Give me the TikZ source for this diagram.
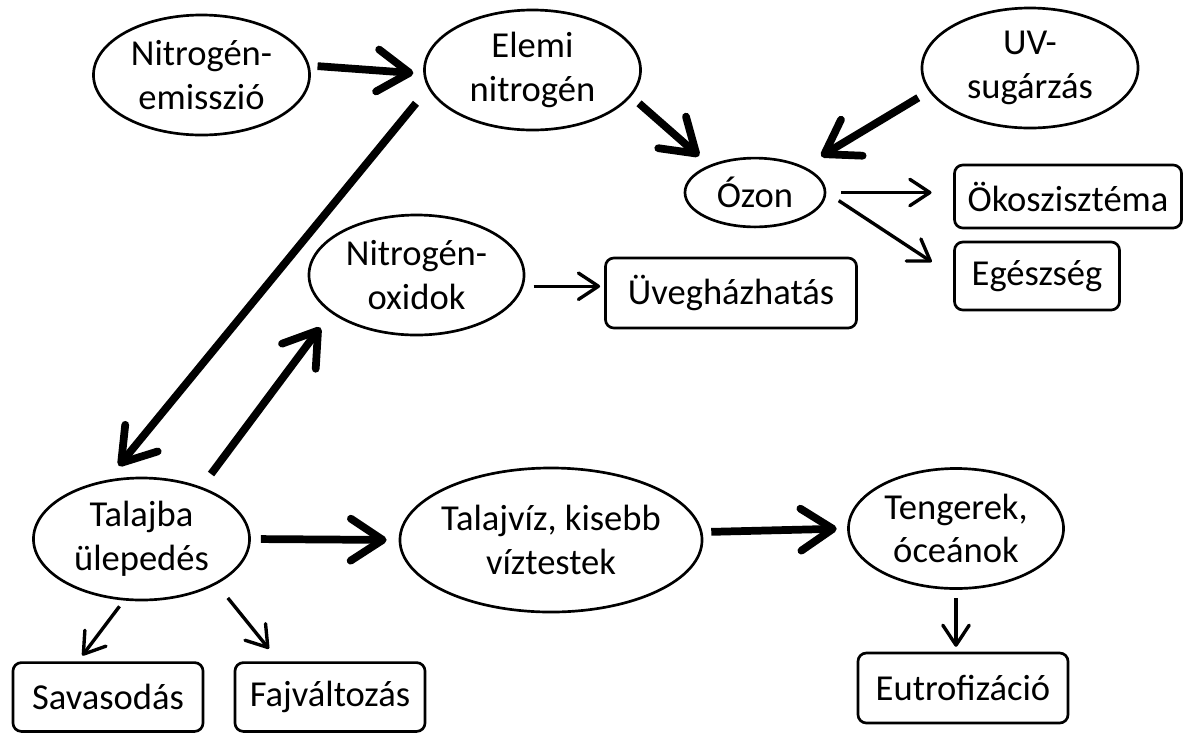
\documentclass[tikz,border=0pt]{standalone}
\usepackage{fontspec}
\setmainfont{Carlito}
\usetikzlibrary{shapes.geometric,arrows.meta}

\begin{document}
\begin{tikzpicture}[x=0.025cm,y=-0.025cm,
    every node/.style={font=\fontsize{26}{31}\selectfont,align=center},
    oval/.style={draw,ellipse,line width=1.9pt,inner sep=0pt,minimum width=5.4cm,minimum height=3cm},
    effect/.style={draw,rectangle,rounded corners=6pt,line width=1.9pt,inner sep=0pt,minimum height=1.72cm},
    bigarrow/.style={line width=5.5pt,-{Straight Barb[length=0.8cm,width=1.05cm,round]}},
    smallarrow/.style={line width=2.4pt,-{Straight Barb[length=0.5cm,width=0.66cm,round]}}]

  \useasboundingbox (0,0) rectangle (1184,733);

  % levego
  \node[oval] (emis) at (201.5,75) {Nitrogén-\\emisszió};
  \node[oval] (elemi) at (532.5,70) {Elemi\\nitrogén};
  \node[oval] (uv) at (1030,68) {UV-\\sugárzás};
  \node[oval,minimum width=3.5cm,minimum height=1.72cm] (ozon) at (755,192.5) {Ózon};
  \node[oval,minimum width=5.375cm] (nox) at (416.5,275) {Nitrogén-\\oxidok};

  \node[effect,minimum width=5.675cm,minimum height=1.575cm] (oko) at (1068,196.5) {Ökoszisztéma};
  \node[effect,minimum width=4.125cm,minimum height=1.7cm] (egesz) at (1037,276) {Egészség};
  \node[effect,minimum width=6.275cm,minimum height=1.75cm] (uveg) at (731,293) {Üvegházhatás};

  % talaj es viz
  \node[oval,minimum height=3.05cm] (talaj) at (141.5,539) {Talajba\\ülepedés};
  \node[oval,minimum width=7.55cm,minimum height=3.6cm,inner xsep=-5pt] (viz) at (551,540) {Talajvíz, kisebb\\víztestek};
  \node[oval,minimum width=5.375cm] (tenger) at (956,528.5) {Tengerek,\\óceánok};

  \node[effect,minimum width=4.75cm] (savas) at (108,697) {Savasodás};
  \node[effect,minimum width=4.75cm] (faj) at (330,697) {Fajváltozás};
  \node[effect,minimum width=5.25cm,minimum height=1.75cm] (eutro) at (963,688) {Eutrofizáció};

  \draw[bigarrow,shorten <=0.2cm,shorten >=0.25cm] (emis.5) -- (elemi.182);
  \draw[bigarrow,shorten <=0.48cm,shorten >=0.45cm] (elemi.190) -- (talaj.120);
  \draw[bigarrow,shorten <=0.4cm,shorten >=0.45cm] (talaj.41) -- (nox.204);
  \draw[bigarrow,shorten <=0.26cm,shorten >=0.34cm] (elemi.345) -- (ozon.149);
  \draw[bigarrow,shorten <=0.31cm,shorten >=0.5cm] (uv.193) -- (ozon.28);
  \draw[smallarrow,shorten <=0.37cm,shorten >=0.54cm] (ozon.east) -- (ozon.east -| oko.west);
  \draw[smallarrow,shorten <=0.37cm,shorten >=0.64cm] (ozon.east) -- (egesz.west);
  \draw[smallarrow,shorten <=0.25cm,shorten >=0.1cm] (nox.-6) -- (nox.-6 -| uveg.west);
  \draw[bigarrow,shorten <=0.25cm,shorten >=0.3cm] (talaj.east) -- (viz.west);
  \draw[bigarrow,shorten <=0.22cm,shorten >=0.26cm] (viz.3) -- (tenger.west);
  \draw[smallarrow,shorten <=0.21cm,shorten >=0.12cm] (tenger.south) -- (tenger.south |- eutro.north);
  \draw[smallarrow,shorten <=0.18cm,shorten >=0.18cm] (talaj.254) -- (savas.130);
  \draw[smallarrow,shorten <=0.44cm,shorten >=0.4cm] (talaj.-31) -- (faj.145);
\end{tikzpicture}
\end{document}
